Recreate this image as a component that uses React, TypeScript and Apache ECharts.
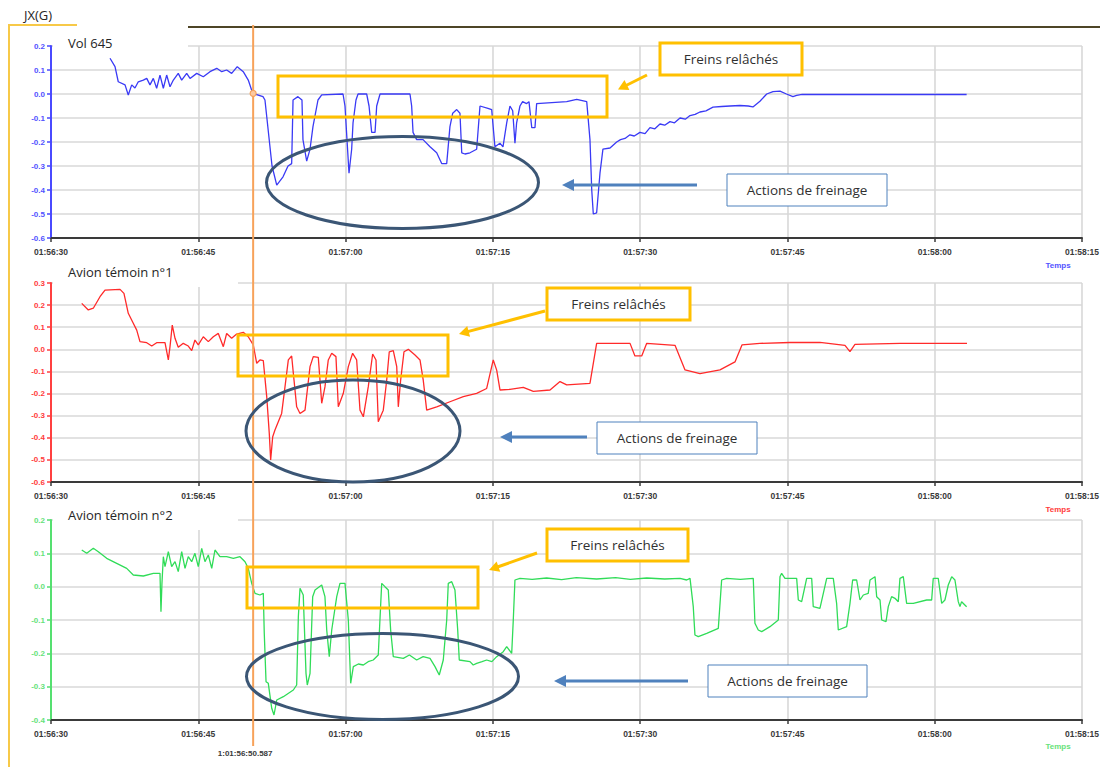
import React, { useEffect, useRef } from "react";
import * as echarts from "echarts";

// Time values are seconds after 01:56:00.
const TIME_MIN = 30;
const TIME_MAX = 135;
const TIME_STEP = 15;
const DAY_OFFSET = 1 * 3600 + 56 * 60;

const markerTime = 50.587;
const markerLabel = "1:01:56:50.587";

const vol645Time = [
  36.01, 36.52, 36.85, 37.54, 37.87, 38.22, 38.55, 38.89, 39.4, 39.75,
  40.08, 40.42, 40.76, 41.1, 41.44, 41.78, 42.12, 42.46, 42.96, 43.31,
  43.82, 44.16, 44.84, 45.51, 46.19, 46.88, 47.39, 47.89, 48.4, 48.97,
  49.58, 50.09, 50.54, 51.59, 51.79, 52.51, 52.99, 53.63, 54.14, 54.51,
  54.65, 55.15, 55.56, 55.66, 56.04, 56.38, 56.68, 57.19, 57.57, 59.74,
  59.94, 60.35, 60.62, 60.76, 61.06, 61.27, 62.15, 62.39, 62.66, 63.0,
  63.17, 63.51, 66.56, 66.73, 66.87, 67.24, 67.89, 68.6, 69.28, 69.79,
  70.3, 70.63, 70.91, 71.32, 71.65, 71.83, 72.16, 72.67, 73.35, 73.69,
  74.5, 74.88, 75.21, 75.72, 76.03, 76.41, 76.74, 77.02, 77.25, 77.42,
  77.76, 78.03, 78.44, 78.68, 78.96, 79.29, 79.46, 82.52, 83.54, 84.56,
  84.89, 85.07, 85.23, 85.57, 85.91, 86.21, 86.93, 87.61, 88.0, 88.46,
  88.96, 89.4, 89.98, 90.5, 91.0, 91.5, 92.02, 92.5, 93.04, 93.5,
  94.06, 94.6, 95.08, 95.6, 96.09, 96.7, 97.42, 98.3, 99.15, 100.17,
  101.0, 101.49, 102.2, 102.89, 103.53, 104.24, 104.9, 105.56, 105.94, 106.5,
  123.25,
];
const vol645G = [
  0.149, 0.114, 0.051, 0.038, -0.004, 0.038, 0.025, 0.051, 0.058, 0.065,
  0.038, 0.065, 0.024, 0.079, 0.024, 0.079, 0.03, 0.058, 0.086, 0.058,
  0.086, 0.065, 0.086, 0.072, 0.093, 0.107, 0.093, 0.1, 0.086, 0.114,
  0.093, 0.058, 0.003, -0.011, -0.025, -0.3, -0.38, -0.345, -0.3, -0.29,
  -0.025, -0.011, -0.025, -0.19, -0.28, -0.23, -0.136, -0.025, -0.004, 0.0,
  -0.05, -0.33, -0.23, -0.12, -0.025, 0.0, 0.0, -0.05, -0.16, -0.16,
  -0.05, 0.0, 0.0, -0.05, -0.16, -0.19, -0.19, -0.22, -0.245, -0.29,
  -0.29, -0.136, -0.08, -0.065, -0.08, -0.245, -0.25, -0.245, -0.23, -0.05,
  -0.06, -0.065, -0.22, -0.205, -0.22, -0.12, -0.05, -0.07, -0.205, -0.12,
  -0.05, -0.032, -0.04, -0.032, -0.14, -0.14, -0.04, -0.032, -0.022, -0.032,
  -0.19, -0.4, -0.5, -0.495, -0.33, -0.23, -0.225, -0.2, -0.19, -0.185,
  -0.17, -0.175, -0.16, -0.165, -0.14, -0.145, -0.125, -0.13, -0.115, -0.12,
  -0.1, -0.105, -0.09, -0.085, -0.075, -0.07, -0.055, -0.052, -0.05, -0.048,
  -0.05, -0.054, -0.03, 0.0, 0.01, 0.012, 0.0, -0.011, -0.006, -0.002,
  -0.002,
];

const temoin1Time = [
  33.13, 33.8, 34.31, 34.99, 35.5, 37.03, 37.43, 37.87, 38.38, 38.73,
  39.06, 39.75, 40.26, 40.76, 41.61, 41.95, 42.12, 42.35, 42.63, 42.96,
  43.47, 43.98, 44.33, 44.66, 45.0, 45.51, 46.02, 46.53, 47.04, 47.55,
  47.89, 48.4, 48.91, 49.58, 50.09, 50.6, 50.95, 51.28, 51.62, 51.97,
  52.23, 52.37, 52.58, 52.81, 53.49, 53.83, 54.17, 54.51, 54.68, 55.02,
  55.36, 55.87, 56.38, 56.71, 57.22, 57.57, 57.9, 58.24, 58.59, 59.02,
  59.26, 59.77, 60.28, 60.72, 61.13, 61.47, 61.81, 62.31, 62.76, 63.1,
  63.33, 63.84, 64.19, 64.45, 64.86, 65.21, 65.37, 65.61, 65.95, 66.39,
  67.07, 67.58, 67.91, 68.26, 69.28, 70.63, 71.99, 73.35, 74.37, 75.04,
  75.39, 75.73, 76.74, 78.1, 79.12, 80.82, 81.84, 82.52, 84.89, 85.57,
  88.97, 89.47, 90.16, 90.67, 93.55, 94.57, 96.09, 98.13, 99.66, 100.37,
  102.2, 105.26, 108.31, 110.86, 111.37, 111.88, 116.46, 120.54, 123.29,
];
const temoin1G = [
  0.208, 0.178, 0.186, 0.238, 0.268, 0.271, 0.253, 0.163, 0.118, 0.087,
  0.035, 0.03, 0.015, 0.03, 0.03, -0.048, 0.012, 0.11, 0.05, 0.009,
  0.027, 0.015, -0.006, 0.042, 0.02, 0.057, 0.035, 0.057, 0.072, 0.012,
  0.072, 0.05, 0.069, 0.077, 0.057, 0.02, -0.063, -0.048, -0.051, -0.214,
  -0.38, -0.5, -0.395, -0.365, -0.29, -0.17, -0.048, -0.03, -0.108, -0.26,
  -0.29, -0.275, -0.078, -0.033, -0.036, -0.244, -0.17, -0.048, -0.018, -0.033,
  -0.26, -0.199, -0.078, -0.018, -0.048, -0.275, -0.305, -0.17, -0.021, -0.048,
  -0.327, -0.275, -0.139, -0.011, -0.006, -0.078, -0.26, -0.139, -0.011, 0.0,
  -0.026, -0.048, -0.139, -0.275, -0.26, -0.237, -0.214, -0.199, -0.177, -0.048,
  -0.094, -0.184, -0.181, -0.172, -0.19, -0.184, -0.146, -0.161, -0.154, 0.027,
  0.027, -0.03, -0.03, 0.027, 0.018, -0.093, -0.11, -0.093, -0.057, 0.02,
  0.027, 0.031, 0.031, 0.018, -0.01, 0.022, 0.027, 0.027, 0.027,
];

const temoin2Time = [
  33.13, 33.64, 34.31, 34.82, 35.67, 36.69, 37.71, 38.38, 39.4, 40.42,
  41.1, 41.2, 41.3, 41.44, 41.61, 41.95, 42.29, 42.63, 42.96, 43.31,
  43.65, 43.98, 44.33, 44.66, 45.0, 45.35, 45.68, 46.02, 46.37, 46.7,
  47.21, 47.89, 48.57, 49.25, 49.76, 50.09, 50.44, 50.78, 51.28, 51.62,
  51.72, 51.9, 52.13, 52.48, 52.71, 52.99, 53.66, 54.68, 55.02, 55.19,
  55.36, 55.69, 55.97, 56.1, 56.38, 56.65, 56.89, 57.57, 57.9, 58.08,
  58.34, 58.59, 59.1, 59.43, 59.94, 60.28, 60.52, 60.79, 61.3, 61.81, 62.3, 62.82,
  63.33, 63.5, 63.68, 64.01, 64.35, 64.59, 64.86, 65.88, 66.5, 67.24, 67.9, 68.6,
  69.11, 69.54, 69.95, 70.3, 70.46, 70.81, 71.14, 71.42, 71.58, 72.67,
  73.0, 73.35, 73.9, 74.37, 74.9, 75.39, 76.06, 76.41, 76.92, 77.08, 77.25, 77.76, 79.0,
  80.48, 82.0, 83.5, 85.57, 87.5, 89.0, 90.67, 92.5, 94.06, 94.74,
  95.08, 95.41, 95.58, 95.92, 96.78, 97.96, 98.3, 98.81, 100.2, 101.52,
  101.69, 102.03, 102.38, 103.22, 104.07, 104.24, 104.41, 104.75, 105.94, 106.11,
  106.45, 106.96, 107.47, 107.63, 108.31, 109.0, 109.67, 110.01, 110.18, 111.03,
  111.37, 111.64, 112.05, 112.39, 112.73, 113.23, 113.41, 113.92, 114.09, 114.43,
  114.6, 115.04, 115.27, 115.61, 115.95, 116.29, 116.46, 116.8, 117.14, 117.82,
  119.18, 119.69, 119.85, 120.36, 120.71, 121.04, 121.38, 121.73, 122.06, 122.4,
  122.57, 122.74, 123.25,
];
const temoin2G = [
  0.11, 0.1, 0.115, 0.105, 0.085, 0.07, 0.055, 0.035, 0.032, 0.04,
  0.04, -0.075, 0.01, 0.09, 0.06, 0.105, 0.06, 0.075, 0.045, 0.105,
  0.055, 0.09, 0.075, 0.1, 0.06, 0.115, 0.075, 0.095, 0.055, 0.11,
  0.09, 0.09, 0.085, 0.09, 0.075, 0.055, 0.01, -0.02, -0.025, -0.02,
  -0.14, -0.285, -0.29, -0.365, -0.385, -0.34, -0.33, -0.31, -0.295, -0.09,
  -0.005, -0.025, -0.26, -0.295, -0.26, -0.03, -0.01, 0.005, -0.03, -0.13,
  -0.21, -0.13, -0.03, 0.01, 0.01, -0.1, -0.29, -0.24, -0.232, -0.235, -0.225, -0.22,
  -0.205, -0.1, 0.01, 0.0, -0.01, -0.13, -0.21, -0.215, -0.205, -0.22, -0.21, -0.215,
  -0.24, -0.265, -0.22, -0.1, 0.01, 0.015, -0.01, -0.13, -0.22, -0.225,
  -0.235, -0.23, -0.225, -0.22, -0.225, -0.21, -0.195, -0.18, -0.2, -0.1, 0.02, 0.025, 0.022,
  0.026, 0.021, 0.027, 0.023, 0.027, 0.022, 0.026, 0.023, 0.025, 0.02,
  0.025, -0.06, -0.145, -0.15, -0.14, -0.125, 0.02, 0.025, 0.022, 0.025,
  -0.11, -0.13, -0.135, -0.12, -0.1, 0.03, 0.04, 0.025, 0.025, -0.04,
  -0.045, 0.025, 0.025, -0.06, -0.065, 0.025, 0.025, -0.05, -0.13, -0.12,
  -0.05, 0.02, 0.02, -0.04, -0.025, -0.02, 0.02, 0.03, -0.03, -0.04,
  -0.1, -0.105, -0.06, -0.03, -0.035, -0.045, 0.025, 0.03, -0.05, -0.05,
  -0.04, -0.04, 0.025, 0.025, -0.05, -0.04, 0.005, 0.03, 0.02, -0.045,
  -0.06, -0.045, -0.06,
];

const panelTitles = ["Vol 645", "Avion témoin n°1", "Avion témoin n°2"];
const yRanges = [
  [-0.6, 0.2],
  [-0.6, 0.3],
  [-0.4, 0.2],
];
const seriesTimes = [vol645Time, temoin1Time, temoin2Time];
const seriesValues = [vol645G, temoin1G, temoin2G];

const lineColors = ["#3a3af5", "#ff2a2a", "#30dc58"];
const axisColors = ["#4a4aff", "#ff4040", "#55e070"];
const labelColors = ["#5252ff", "#ff3b3b", "#66e27a"];

const layout = [
  { top: 46, height: 192 },
  { top: 283, height: 199 },
  { top: 520, height: 200 },
];

const pad = (n: number) => String(n).padStart(2, "0");
const fmtTime = (v: number) => {
  const total = Math.round(DAY_OFFSET + v);
  const h = Math.floor(total / 3600);
  const m = Math.floor((total % 3600) / 60);
  const s = total % 60;
  return `${pad(h)}:${pad(m)}:${pad(s)}`;
};
const fmtG = (v: number) => (Math.abs(v) < 1e-9 ? 0 : v).toFixed(1);

const FONT = '"Open Sans", "Noto Sans", sans-serif';
const SMALL = "Liberation Sans, Arial, sans-serif";

function arrow(
  x1: number,
  y1: number,
  x2: number,
  y2: number,
  color: string,
  lw: number,
  headLen: number,
  headW: number
) {
  const dx = x2 - x1;
  const dy = y2 - y1;
  const L = Math.hypot(dx, dy);
  const ux = dx / L;
  const uy = dy / L;
  const bx = x2 - ux * headLen;
  const by = y2 - uy * headLen;
  const px = -uy;
  const py = ux;
  return [
    {
      type: "line",
      z: 20,
      shape: { x1, y1, x2: bx + ux, y2: by + uy },
      style: { stroke: color, lineWidth: lw },
    },
    {
      type: "polygon",
      z: 20,
      shape: {
        points: [
          [x2, y2],
          [bx + (px * headW) / 2, by + (py * headW) / 2],
          [bx - (px * headW) / 2, by - (py * headW) / 2],
        ],
      },
      style: { fill: color },
    },
  ];
}

function textBox(
  x: number,
  y: number,
  w: number,
  h: number,
  text: string,
  stroke: string,
  lw: number
) {
  return [
    {
      type: "rect",
      z: 20,
      shape: { x, y, width: w, height: h },
      style: { fill: "#fff", stroke, lineWidth: lw },
    },
    {
      type: "text",
      z: 21,
      x: x + w / 2,
      y: y + h / 2,
      style: {
        text,
        fill: "#303030",
        font: `13.5px ${FONT}`,
        textAlign: "center",
        textVerticalAlign: "middle",
      },
    },
  ];
}

function interp(ts: number[], vs: number[], t: number) {
  for (let i = 1; i < ts.length; i++) {
    if (ts[i] >= t) {
      const f = (t - ts[i - 1]) / (ts[i] - ts[i - 1]);
      return vs[i - 1] + f * (vs[i] - vs[i - 1]);
    }
  }
  return vs[vs.length - 1];
}

export default function App() {
  const ref = useRef<HTMLDivElement>(null);

  useEffect(() => {
    if (!ref.current) return;
    const chart = echarts.init(ref.current, null, { renderer: "svg" });

    const grids = layout.map((l) => ({
      left: 51,
      width: 1031,
      top: l.top,
      height: l.height,
      containLabel: false,
    }));

    const xAxes = layout.map((_, i) => ({
      gridIndex: i,
      type: "value",
      min: TIME_MIN,
      max: TIME_MAX,
      interval: TIME_STEP,
      axisLine: { onZero: false, lineStyle: { color: "#3a3a3a", width: 2 } },
      axisTick: { show: true, length: 4, lineStyle: { color: "#3a3a3a", width: 1.5 } },
      axisLabel: {
        color: "#3a3a3a",
        fontSize: 8.5,
        fontWeight: "bold",
        fontFamily: SMALL,
        margin: 9,
        formatter: fmtTime,
      },
      splitLine: { show: true, lineStyle: { color: "#d8d8d8", width: 1.6 } },
    }));

    const yAxes = layout.map((_, i) => ({
      gridIndex: i,
      type: "value",
      min: yRanges[i][0],
      max: yRanges[i][1],
      interval: 0.1,
      axisLine: { show: true, onZero: false, lineStyle: { color: axisColors[i], width: 2 } },
      axisTick: { show: true, length: 4, lineStyle: { color: axisColors[i], width: 1.5 } },
      axisLabel: {
        color: labelColors[i],
        fontSize: 8,
        fontWeight: "bold",
        fontFamily: SMALL,
        margin: 6,
        formatter: fmtG,
      },
      splitLine: { show: true, lineStyle: { color: "#d8d8d8", width: 1.6 } },
    }));

    const series = seriesTimes.map((ts, i) => ({
      type: "line",
      name: panelTitles[i],
      xAxisIndex: i,
      yAxisIndex: i,
      data: ts.map((t, k) => [t, seriesValues[i][k]]),
      showSymbol: false,
      symbol: "none",
      lineStyle: { color: lineColors[i], width: 1.3 },
      itemStyle: { color: lineColors[i] },
      z: 3,
    }));

    chart.setOption({
      animation: false,
      backgroundColor: "#ffffff",
      grid: grids,
      xAxis: xAxes,
      yAxis: yAxes,
      series,
    });

    const mx = chart.convertToPixel({ xAxisIndex: 0 }, markerTime) as number;
    const dot = chart.convertToPixel({ gridIndex: 0 }, [
      markerTime,
      interp(vol645Time, vol645G, markerTime),
    ]) as number[];

    const orange = "#FFC000";
    const slate = "#3b5675";
    const steel = "#4F81BD";

    const elements: any[] = [
      // frame lines
      { type: "line", z: 5, shape: { x1: 8, y1: 25, x2: 77, y2: 25 }, style: { stroke: "#f7c948", lineWidth: 2 } },
      { type: "line", z: 5, shape: { x1: 9, y1: 25, x2: 9, y2: 767 }, style: { stroke: "#f7c948", lineWidth: 2 } },
      { type: "line", z: 5, shape: { x1: 188, y1: 27, x2: 1100, y2: 27 }, style: { stroke: "#4e4526", lineWidth: 2 } },
      {
        type: "text",
        z: 5,
        x: 24,
        y: 15,
        style: { text: "JX(G)", fill: "#262626", font: `13px ${FONT}`, textVerticalAlign: "middle" },
      },
      // title backdrops
      { type: "rect", z: 1, shape: { x: 53, y: 29, width: 135, height: 20 }, style: { fill: "#fff" } },
      { type: "rect", z: 1, shape: { x: 53, y: 262, width: 185, height: 25 }, style: { fill: "#fff" } },
      { type: "rect", z: 1, shape: { x: 53, y: 500, width: 185, height: 30 }, style: { fill: "#fff" } },
      ...panelTitles.map((t, i) => ({
        type: "text",
        z: 6,
        x: 68,
        y: [43, 272, 515][i],
        style: { text: t, fill: "#262626", font: `13px ${FONT}`, textVerticalAlign: "middle" },
      })),
      // axis names
      ...["Temps", "Temps", "Temps"].map((t, i) => ({
        type: "text",
        z: 6,
        x: 1058,
        y: [265, 509, 746][i],
        style: {
          text: t,
          fill: labelColors[i],
          font: `bold 8px ${SMALL}`,
          textAlign: "center",
          textVerticalAlign: "middle",
        },
      })),
      // event marker
      {
        type: "line",
        z: 15,
        shape: { x1: mx, y1: 25, x2: mx, y2: 746 },
        style: { stroke: "#f7a25a", lineWidth: 2 },
      },
      {
        type: "circle",
        z: 16,
        shape: { cx: dot[0], cy: dot[1], r: 3 },
        style: { fill: "#fbc9a0", stroke: "#f7a25a", lineWidth: 1.2 },
      },
      {
        type: "text",
        z: 16,
        x: mx - 8,
        y: 753,
        style: {
          text: markerLabel,
          fill: "#3a3a3a",
          font: `bold 8px ${SMALL}`,
          textAlign: "center",
          textVerticalAlign: "middle",
        },
      },
      // released-brake zones
      { type: "rect", z: 20, shape: { x: 278, y: 76, width: 329, height: 41 }, style: { fill: "none", stroke: orange, lineWidth: 3 } },
      { type: "rect", z: 20, shape: { x: 238, y: 335, width: 210, height: 41 }, style: { fill: "none", stroke: orange, lineWidth: 3 } },
      { type: "rect", z: 20, shape: { x: 247, y: 567, width: 231, height: 41 }, style: { fill: "none", stroke: orange, lineWidth: 3 } },
      ...textBox(660, 43, 142, 32, "Freins relâchés", orange, 3),
      ...textBox(547, 288, 143, 32, "Freins relâchés", orange, 3),
      ...textBox(547, 529, 141, 32, "Freins relâchés", orange, 3),
      ...arrow(647, 75, 618, 89.5, orange, 3, 10, 11),
      ...arrow(545, 311, 459, 334, orange, 3, 10, 11),
      ...arrow(537, 553, 489, 570, orange, 3, 10, 11),
      // braking zones
      { type: "ellipse", z: 20, shape: { cx: 402.5, cy: 182.5, rx: 136, ry: 46 }, style: { fill: "none", stroke: slate, lineWidth: 3 } },
      { type: "ellipse", z: 20, shape: { cx: 353, cy: 431, rx: 107, ry: 51 }, style: { fill: "none", stroke: slate, lineWidth: 3 } },
      { type: "ellipse", z: 20, shape: { cx: 382.5, cy: 676.5, rx: 136, ry: 43 }, style: { fill: "none", stroke: slate, lineWidth: 3 } },
      ...arrow(697, 185, 562, 185, steel, 3, 12, 12),
      ...arrow(587, 437, 500, 437, steel, 3, 12, 12),
      ...arrow(688, 681, 554, 681, steel, 3, 12, 12),
      ...textBox(727, 174, 160, 32, "Actions de freinage", steel, 1),
      ...textBox(597, 422, 160, 32, "Actions de freinage", steel, 1),
      ...textBox(708, 665, 159, 32, "Actions de freinage", steel, 1),
    ];

    chart.setOption({ graphic: { elements } });

    return () => chart.dispose();
  }, []);

  return (
    <div
      ref={ref}
      style={{ position: "absolute", left: 0, top: 0, width: 1108, height: 767, background: "#fff" }}
    />
  );
}
